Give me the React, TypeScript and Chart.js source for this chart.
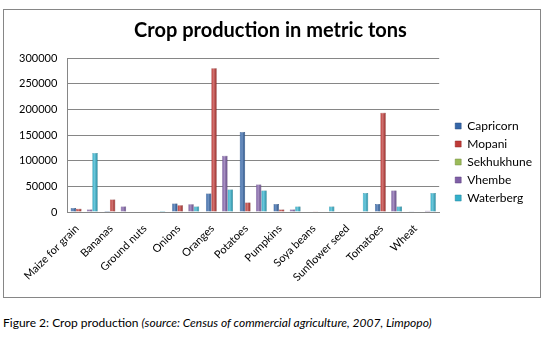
import React, { useEffect, useRef } from "react";
import { Chart, registerables } from "chart.js";

Chart.register(...registerables);

const categories = [
  "Maize for grain",
  "Bananas",
  "Ground nuts",
  "Onions",
  "Oranges",
  "Potatoes",
  "Pumpkins",
  "Soya beans",
  "Sunflower seed",
  "Tomatoes",
  "Wheat",
];
const seriesNames = ["Capricorn", "Mopani", "Sekhukhune", "Vhembe", "Waterberg"];
const capricorn = [8000, 2000, 0, 16800, 36000, 156000, 15500, 0, 0, 15500, 500];
const mopani = [6500, 24500, 1000, 13000, 280000, 18700, 5000, 500, 1000, 193500, 1000];
const sekhukhune = [0, 0, 1000, 0, 0, 0, 0, 0, 1000, 0, 1000];
const vhembe = [5000, 11000, 0, 15000, 109500, 53500, 5000, 0, 0, 42000, 2500];
const waterberg = [115000, 0, 2000, 11000, 44000, 42000, 11000, 11000, 37000, 11000, 37000];
const yTicks = [0, 50000, 100000, 150000, 200000, 250000, 300000];

const fills = ["#3566A8", "#BE3A37", "#9BBB59", "#7F5FA6", "#33B0CB"];
const edges = ["#24497C", "#8E2624", "#728C3C", "#5A3F7C", "#1E8399"];

const FONT = "Lato, 'Liberation Sans', sans-serif";

const legendShift = {
  id: "legendShift",
  afterLayout(chart: any) {
    const lg = chart.legend;
    if (!lg) return;
    const h = lg.bottom - lg.top;
    lg.top = 104;
    lg.bottom = lg.top + h;
    lg.left += 10;
    lg.right += 10;
  },
};

// soft highlight across each bar, like the bevelled columns of the original
const barShine = {
  id: "barShine",
  afterDatasetsDraw(chart: any) {
    const ctx = chart.ctx;
    ctx.save();
    chart.data.datasets.forEach((_: any, di: number) => {
      const meta = chart.getDatasetMeta(di);
      meta.data.forEach((bar: any) => {
        const { x, y, base, width } = bar.getProps(["x", "y", "base", "width"], true);
        const h = base - y;
        if (h < 2) return;
        const l = x - width / 2;
        const g = ctx.createLinearGradient(l, 0, l + width, 0);
        g.addColorStop(0, "rgba(255,255,255,0)");
        g.addColorStop(0.45, "rgba(255,255,255,0.3)");
        g.addColorStop(1, "rgba(0,0,0,0.12)");
        ctx.fillStyle = g;
        ctx.fillRect(l, y, width, h);
      });
    });
    ctx.restore();
  },
};

export default function App() {
  const ref = useRef<HTMLCanvasElement | null>(null);

  useEffect(() => {
    if (!ref.current) return;
    const values = [capricorn, mopani, sekhukhune, vhembe, waterberg];
    const chart = new Chart(ref.current, {
      type: "bar",
      data: {
        labels: categories,
        datasets: seriesNames.map((name, i) => ({
          label: name,
          data: values[i],
          backgroundColor: fills[i],
          borderColor: edges[i],
          borderWidth: 0.5,
          barPercentage: 1,
          categoryPercentage: 0.8,
        })),
      },
      plugins: [legendShift, barShine],
      options: {
        responsive: false,
        animation: false,
        layout: { padding: { left: 5, right: 8, top: 0, bottom: 3 } },
        plugins: {
          title: {
            display: true,
            text: "Crop production in metric tons",
            color: "#000",
            font: { family: FONT, size: 20, weight: "bold" },
            padding: { top: 9, bottom: 15 },
          },
          legend: {
            position: "right",
            align: "start",
            labels: {
              boxWidth: 6,
              boxHeight: 6,
              padding: 6,
              color: "#000",
              font: { family: FONT, size: 12 },
            },
          },
          tooltip: { enabled: false },
        },
        scales: {
          x: {
            grid: { display: false, drawTicks: false },
            border: { color: "#868686" },
            ticks: {
              color: "#000",
              font: { family: FONT, size: 11 },
              minRotation: 45,
              maxRotation: 45,
              padding: 10,
              labelOffset: -7,
              autoSkip: false,
            },
          },
          y: {
            min: 0,
            max: 300000,
            afterBuildTicks: (axis: any) => {
              axis.ticks = yTicks.map((v) => ({ value: v }));
            },
            grid: { color: "#868686", drawTicks: false },
            border: { color: "#868686" },
            ticks: {
              color: "#000",
              font: { family: FONT, size: 11 },
              padding: 10,
              callback: (v: any) => String(v),
            },
          },
        },
      },
    });
    return () => chart.destroy();
  }, []);

  return (
    <div>
      <div
        style={{
          position: "absolute",
          left: 3,
          top: 9,
          width: 538,
          height: 289,
          boxSizing: "border-box",
          border: "1px solid #868686",
          background: "#fff",
        }}
      >
        <canvas ref={ref} width={536} height={287} style={{ display: "block" }} />
      </div>
      <div
        style={{
          position: "absolute",
          left: 3,
          top: 315,
          fontFamily: FONT,
          fontSize: 12,
          color: "#000",
          whiteSpace: "nowrap",
        }}
      >
        Figure 2: Crop production <i>(source: Census of commercial agriculture, 2007, Limpopo)</i>
      </div>
    </div>
  );
}
